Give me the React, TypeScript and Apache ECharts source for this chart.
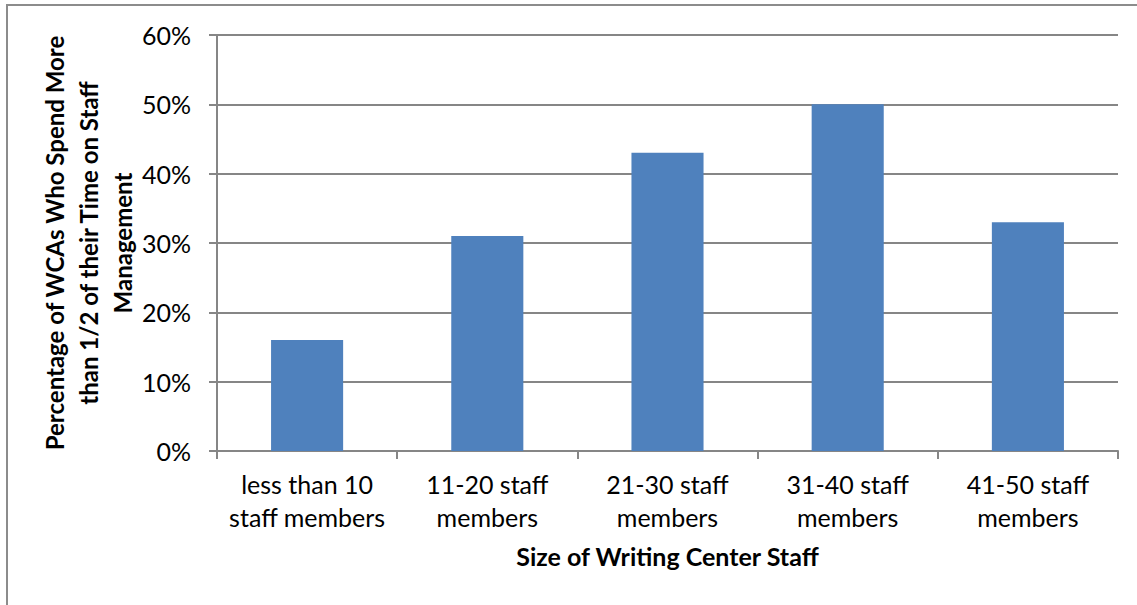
import React, { useEffect, useRef } from "react";
import * as echarts from "echarts";

const categories = [
  "less than 10\nstaff members",
  "11-20 staff\nmembers",
  "21-30 staff\nmembers",
  "31-40 staff\nmembers",
  "41-50 staff\nmembers",
];
const values = [16, 31, 43, 50, 33];
const yTicks = [0, 10, 20, 30, 40, 50, 60];

const xTitle = "Size of Writing Center Staff";
const yTitle = "Percentage of WCAs Who Spend More\nthan 1/2 of their Time on Staff\nManagement";

const FONT = "Lato, 'Open Sans', sans-serif";
const GRAY = "#868686";

export default function App() {
  const ref = useRef<HTMLDivElement>(null);
  useEffect(() => {
    if (!ref.current) return;
    const chart = echarts.init(ref.current, null, { renderer: "svg" });
    chart.setOption({
      animation: false,
      backgroundColor: "#ffffff",
      textStyle: { fontFamily: FONT },
      graphic: [
        {
          type: "rect",
          shape: { x: 7, y: 5, width: 1300, height: 800 },
          style: { fill: "none", stroke: "#8c8c8c", lineWidth: 2 },
          silent: true,
        },
      ],
      grid: { left: 217, right: 19, top: 35, bottom: 154, containLabel: false },
      xAxis: {
        type: "category",
        data: categories,
        name: xTitle,
        nameLocation: "middle",
        nameGap: 92,
        nameMoveOverlap: false,
        nameTextStyle: { fontFamily: FONT, fontSize: 25, fontWeight: "bold", color: "#000" },
        axisLine: { lineStyle: { color: GRAY, width: 2 } },
        axisTick: { show: true, length: 8, lineStyle: { color: GRAY, width: 2 }, alignWithLabel: false },
        axisLabel: { fontFamily: FONT, fontSize: 25, color: "#000", lineHeight: 33, margin: 16, interval: 0 },
        splitLine: { show: false },
      },
      yAxis: {
        type: "value",
        min: 0,
        max: 60,
        interval: 10,
        name: yTitle,
        nameLocation: "middle",
        nameRotate: 90,
        nameGap: 78,
        nameMoveOverlap: false,
        nameTextStyle: { fontFamily: FONT, fontSize: 24, fontWeight: "bold", color: "#000", lineHeight: 34 },
        axisLine: { show: true, lineStyle: { color: GRAY, width: 2 } },
        axisTick: { show: true, length: 8, lineStyle: { color: GRAY, width: 2 } },
        axisLabel: {
          fontFamily: FONT,
          fontSize: 25,
          color: "#000",
          margin: 26,
          formatter: (v: number) => (yTicks.includes(v) ? v + "%" : ""),
        },
        splitLine: { show: true, lineStyle: { color: GRAY, width: 2 } },
      },
      series: [
        {
          type: "bar",
          data: values,
          barWidth: "40%",
          itemStyle: { color: "#4F81BD" },
        },
      ],
    });
    return () => chart.dispose();
  }, []);
  return (
    <div
      ref={ref}
      style={{ position: "fixed", left: 0, top: 0, width: 1137, height: 605 }}
    />
  );
}
